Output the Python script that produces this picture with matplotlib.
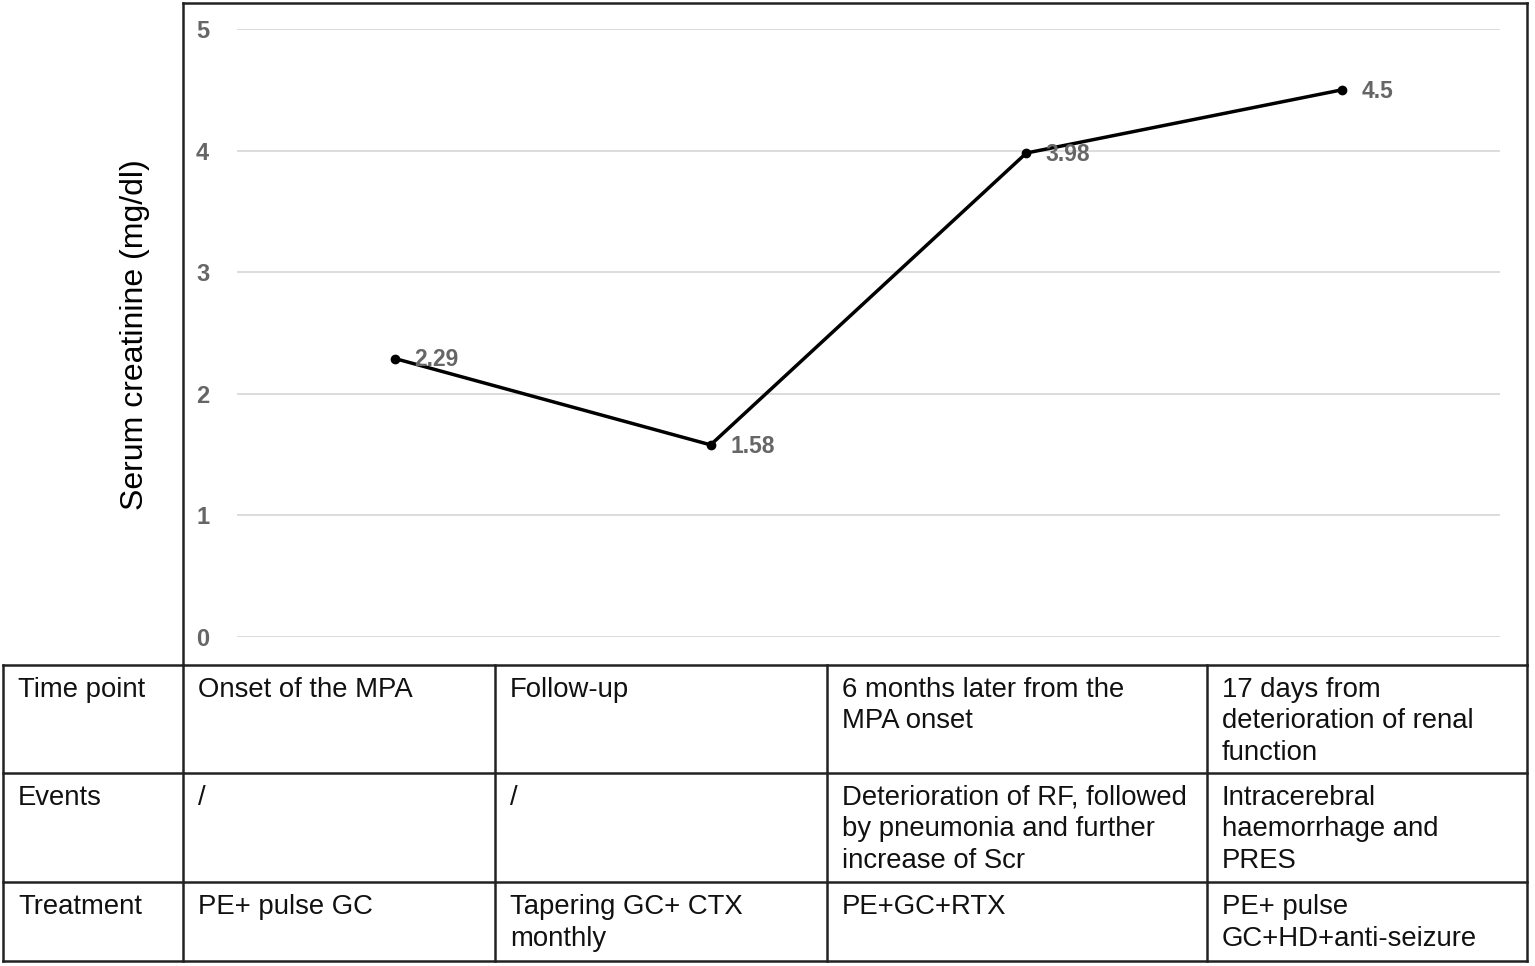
import matplotlib.pyplot as plt
from matplotlib.lines import Line2D

plt.rcParams['font.family'] = ['Liberation Sans', 'DejaVu Sans']

# chart data
time_points = ["Onset", "Follow-up", "6 months", "17 days"]
scr_values = [2.29, 1.58, 3.98, 4.5]
y_ticks = [0, 1, 2, 3, 4, 5]

# table text
row_headers = ["Time point", "Events", "Treatment"]
time_text = ["Onset of the MPA", "Follow-up", "6 months later from the\nMPA onset",
             "17 days from\ndeterioration of renal\nfunction"]
event_text = ["/", "/", "Deterioration of RF, followed\nby pneumonia and further\nincrease of Scr",
              "Intracerebral\nhaemorrhage and\nPRES"]
treat_text = ["PE+ pulse GC", "Tapering GC+ CTX\nmonthly", "PE+GC+RTX",
              "PE+ pulse\nGC+HD+anti-seizure"]

W, H = 1535, 966
fig = plt.figure(figsize=(W / 100, H / 100), dpi=100)


def fx(px):
    return px / W


def fy(py):
    return 1 - py / H


# plot area
ax = fig.add_axes([fx(237), fy(637), fx(1500) - fx(237), fy(29) - fy(637)])
x = list(range(len(time_points)))
ax.plot(x, scr_values, color='black', lw=2.5, marker='o', ms=6, zorder=3)
for xi, v in zip(x, scr_values):
    ax.annotate(f"{v:g}", (xi, v), xytext=(14, -1), textcoords='offset points',
                ha='left', va='center', fontsize=16.5, fontweight='bold', color='#666666')
ax.set_xlim(-0.5, len(time_points) - 0.5)
ax.set_ylim(0, 5)
ax.set_yticks(y_ticks)
ax.set_xticks([])
ax.grid(axis='y', color='#d9d9d9', lw=1.3)
ax.set_axisbelow(True)
for s in ax.spines.values():
    s.set_visible(False)
ax.tick_params(axis='y', length=0, pad=20, labelsize=17, labelcolor='#666666')
for lab in ax.get_yticklabels():
    lab.set_fontweight('bold')

fig.text(fx(135), fy(335), "Serum creatinine (mg/dl)", rotation=90,
         ha='center', va='center', fontsize=23, color='black')

# outer box around the chart
lc = '#222222'
box_l, box_r, box_t = 183, 1527, 3
for (x0, y0, x1, y1) in [(box_l, box_t, box_r, box_t), (box_l, box_t, box_l, 665),
                         (box_r, box_t, box_r, 665)]:
    fig.add_artist(Line2D([fx(x0), fx(x1)], [fy(y0), fy(y1)], color=lc, lw=1.8))

# table grid
col_edges = [3, 183, 495, 827, 1207, 1527]
row_edges = [665, 773, 882, 961]
for ry in row_edges:
    fig.add_artist(Line2D([fx(col_edges[0]), fx(col_edges[-1])], [fy(ry), fy(ry)], color=lc, lw=1.8))
for cx in col_edges:
    fig.add_artist(Line2D([fx(cx), fx(cx)], [fy(row_edges[0]), fy(row_edges[-1])], color=lc, lw=1.8))

rows = [time_text, event_text, treat_text]
line_h = 31.5
for r, (head, cells) in enumerate(zip(row_headers, rows)):
    top = row_edges[r] + 25
    for c, txt in enumerate([head] + cells):
        for k, line in enumerate(txt.split("\n")):
            fig.text(fx(col_edges[c] + 15), fy(top + k * line_h), line,
                     ha='left', va='center', fontsize=19.8, color='#111111')

fig.savefig("out.png", dpi=100)
